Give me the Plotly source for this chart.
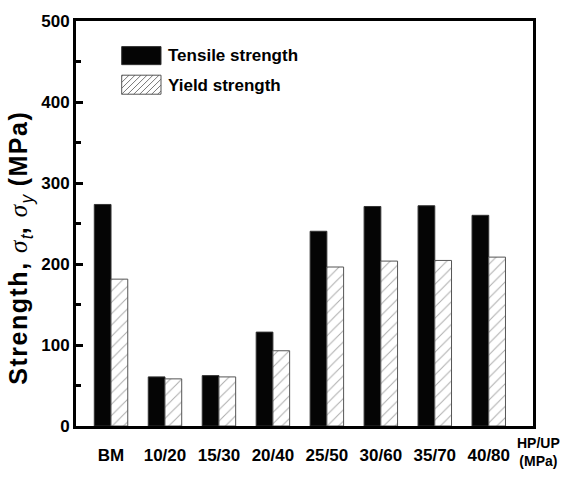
import plotly.graph_objects as go

categories = ["BM", "10/20", "15/30", "20/40", "25/50", "30/60", "35/70", "40/80"]
tensile = [273.5, 60.6, 62.2, 115.9, 240.4, 271.0, 271.9, 260.1]
yield_s = [181.3, 58.2, 60.6, 92.9, 196.3, 203.6, 204.4, 208.5]
series_names = ["Tensile strength", "Yield strength"]
xpos = list(range(len(categories)))

FONT = "Liberation Sans, Arial, sans-serif"

fig = go.Figure()
fig.add_trace(go.Bar(
    x=xpos, y=tensile, name=series_names[0],
    marker=dict(color="#050505", line=dict(color="#333333", width=1)),
    showlegend=False,
))
fig.add_trace(go.Bar(
    x=xpos, y=yield_s, name=series_names[1],
    marker=dict(color="white", line=dict(color="#555555", width=1),
                pattern=dict(shape="/", fgcolor="#555555", bgcolor="white",
                             size=8, solidity=0.12)),
    showlegend=False,
))

fig.update_layout(
    width=565, height=483,
    margin=dict(l=76, r=32, t=15, b=57),
    paper_bgcolor="white", plot_bgcolor="white",
    barmode="group", bargap=0.38, bargroupgap=0,
    font=dict(family=FONT, size=17, color="black"),
    xaxis=dict(
        range=[-0.649, 7.82], tickvals=xpos, ticktext=categories,
        showline=True, linecolor="#000000", linewidth=3, mirror=True,
        ticks="", showgrid=False, zeroline=False,
        tickfont=dict(size=17, weight="bold"), ticklabelstandoff=12,
    ),
    yaxis=dict(
        range=[0, 500], dtick=100, tick0=0,
        showline=True, linecolor="#000000", linewidth=3, mirror=True,
        ticks="inside", ticklen=7, tickwidth=3, tickcolor="black",
        minor=dict(dtick=50, ticks="inside", ticklen=5, tickwidth=3, tickcolor="black"),
        showgrid=False, zeroline=False,
        tickfont=dict(size=17, weight="bold"),
    ),
)

def px_x(p):
    return (p - 76) / 457.0

def px_y(p):
    return (426 - p) / 411.0

# Y axis title
LS = "letter-spacing:1.5px"
fig.add_annotation(
    xref="paper", yref="paper", x=px_x(20), y=px_y(245),
    xanchor="center", yanchor="middle", textangle=-90, showarrow=False,
    text=(f"<span style='{LS}'><b>Strength, </b></span>"
          f"<span style='font-family:Liberation Serif,serif;{LS}'><i>σ</i></span>"
          f"<sub><i>t</i></sub><span style='{LS}'><b>, </b></span>"
          f"<span style='font-family:Liberation Serif,serif;{LS}'><i>σ</i></span>"
          f"<sub><i>y</i></sub><span style='{LS}'><b> (MPa)</b></span>"),
    font=dict(size=25, family=FONT),
)

# X axis unit label
fig.add_annotation(
    xref="paper", yref="paper", x=px_x(538), y=px_y(452),
    xanchor="center", yanchor="middle", showarrow=False,
    text="<b>HP/UP</b><br><b>(MPa)</b>", font=dict(size=14, family=FONT),
)

# Manual legend (decoration)
fig.add_shape(type="rect", xref="paper", yref="paper",
              x0=px_x(121.7), x1=px_x(161), y0=px_y(59.3), y1=px_y(41),
              fillcolor="#050505", line=dict(color="#333333", width=1))
fig.add_shape(type="rect", xref="paper", yref="paper",
              x0=px_x(121.7), x1=px_x(161), y0=px_y(89.3), y1=px_y(70),
              fillcolor="white", line=dict(color="#555555", width=1))
for k in range(-3, 8):
    x0, y0 = 121.7 + k * 6, 89.3
    x1, y1 = x0 + 19.3, 70
    if x0 < 121.7:
        y0 = y0 - (121.7 - x0)
        x0 = 121.7
    if x1 > 161:
        y1 = y1 + (x1 - 161)
        x1 = 161
    if x0 >= x1:
        continue
    fig.add_shape(type="line", xref="paper", yref="paper",
                  x0=px_x(x0), y0=px_y(y0), x1=px_x(x1), y1=px_y(y1),
                  line=dict(color="#555555", width=0.8))

fig.add_annotation(xref="paper", yref="paper", x=px_x(166), y=px_y(50.5),
                   xanchor="left", yanchor="middle", showarrow=False,
                   text="<b>" + series_names[0] + "</b>", font=dict(size=17, family=FONT))
fig.add_annotation(xref="paper", yref="paper", x=px_x(166), y=px_y(80),
                   xanchor="left", yanchor="middle", showarrow=False,
                   text="<b>" + series_names[1] + "</b>", font=dict(size=17, family=FONT))

fig.write_html("out.html")
